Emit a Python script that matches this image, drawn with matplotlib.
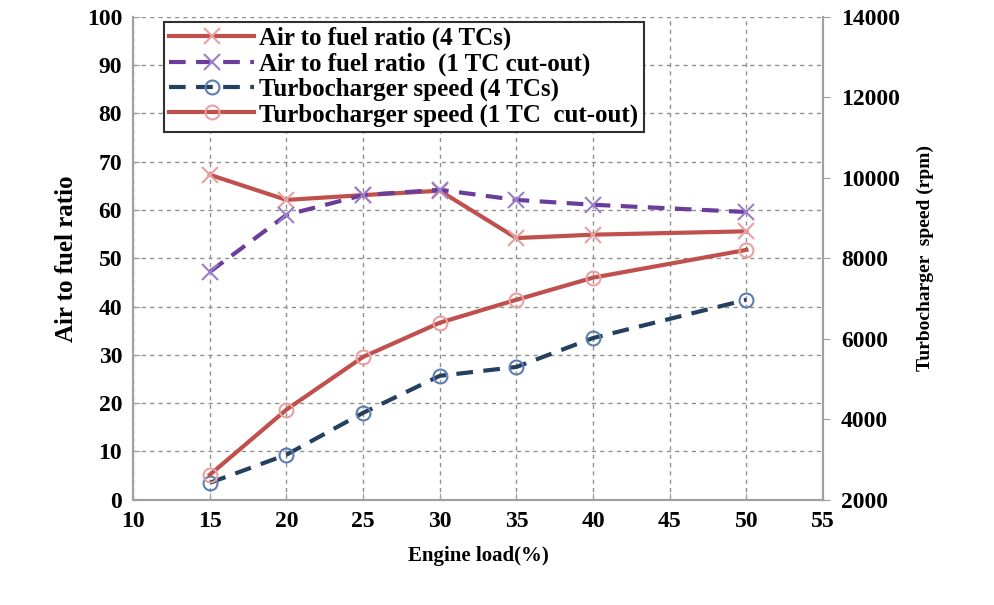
import matplotlib.pyplot as plt

# Engine load (%)
load = [15, 20, 25, 30, 35, 40, 50]

# Air to fuel ratio (left axis)
afr_4tc = [67.3, 62.1, 63.1, 64.0, 54.2, 54.9, 55.6]
afr_1tc = [47.2, 59.0, 63.1, 64.2, 62.1, 61.1, 59.6]

# Turbocharger speed, rpm (right axis)
tc_4tc = [2420, 3120, 4160, 5080, 5300, 6020, 6970]
tc_1tc = [2620, 4240, 5550, 6400, 6970, 7520, 8210]

plt.rcParams['font.family'] = ['Liberation Serif', 'DejaVu Serif']
plt.rcParams['font.weight'] = 'bold'

fig = plt.figure(figsize=(9.94, 6.05), dpi=100)
ax = fig.add_axes([0.134, 0.174, 0.694, 0.798])
ax2 = ax.twinx()

red = '#C0504D'
purple = '#6A3D9A'
navy = '#243F60'

l1, = ax.plot(load, afr_4tc, color=red, lw=3, marker='x', ms=11, mec='#E8A0A0', mew=1.5,
              label='Air to fuel ratio (4 TCs)')
l2, = ax.plot(load, afr_1tc, color=purple, lw=3, ls=(0, (4, 2.5)), marker='x', ms=11,
              mec='#9B7FC8', mew=1.5, label='Air to fuel ratio  (1 TC cut-out)')
l3, = ax2.plot(load, tc_4tc, color=navy, lw=3, ls=(0, (4, 2.5)), marker='o', ms=10,
               mfc='none', mec='#5A7FB0', mew=1.5, label='Turbocharger speed (4 TCs)')
l4, = ax2.plot(load, tc_1tc, color=red, lw=3, marker='o', ms=10, mfc='none',
               mec='#E8A0A0', mew=1.5, label='Turbocharger speed (1 TC  cut-out)')

ax.set_xlim(10, 55)
ax.set_ylim(0, 100)
ax.set_xticks(range(10, 56, 5))
ax.set_yticks(range(0, 101, 10))
ax2.set_ylim(2000, 14000)
ax2.set_yticks(range(2000, 14001, 2000))

ax.grid(True, color='#909090', ls=(0, (3, 3)), lw=1)
ax.set_axisbelow(True)

for a in (ax, ax2):
    a.spines['top'].set_visible(False)
    for s in ('left', 'right', 'bottom'):
        a.spines[s].set_color('#A0A0A0')
        a.spines[s].set_linewidth(1.5)
ax.tick_params(axis='both', labelsize=17, direction='in', length=5, color='#A0A0A0', pad=8)
ax2.tick_params(axis='y', labelsize=17, direction='out', length=5, color='#A0A0A0', pad=8)

ax.set_xlabel('Engine load(%)', fontsize=15, fontweight='bold', labelpad=10)
ax.set_ylabel('Air to fuel ratio', fontsize=18, fontweight='bold', labelpad=6)
ax2.set_ylabel('Turbocharger  speed (rpm)', fontsize=14, fontweight='bold', labelpad=12)

leg = ax.legend(handles=[l1, l2, l3, l4], loc='upper left', bbox_to_anchor=(0.038, 1.0),
                fontsize=18, handlelength=3.4, handletextpad=0.2, labelspacing=0.08,
                borderpad=0.2, borderaxespad=0.2, fancybox=False, framealpha=1,
                edgecolor='#303030')
leg.get_frame().set_linewidth(1.5)
for t in leg.get_texts():
    t.set_fontweight('bold')

fig.savefig('out.png', dpi=100)
